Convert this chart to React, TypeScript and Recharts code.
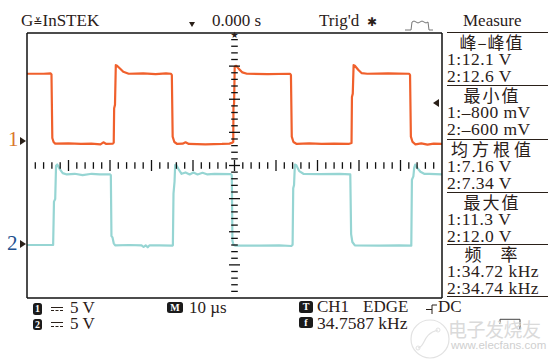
import React from 'react'
import { ComposedChart, Line, Scatter, XAxis, YAxis } from 'recharts'

// time in µs (0 = trigger point), volts
const ch1Samples: [number, number][] = [
  [-50, 10.0], [-46.0, 10.0], [-44.3, 10.05], [-44.1, 9.9], [-43.9, 0.3], [-43.6, -0.3], [-43.2, -0.55],
  [-40.0, -0.5], [-37.0, -0.6], [-34.5, -0.55], [-32.3, -0.65], [-31.6, -0.35], [-30.9, -0.6], [-29.3, -0.55],
  [-29.1, -0.4], [-29.0, 4.8], [-28.8, 5.3], [-28.6, 11.3], [-28.3, 11.2], [-27.6, 10.8], [-26.8, 10.3],
  [-25.5, 10.0], [-22.0, 10.05], [-19.0, 9.95], [-16.5, 10.05], [-15.3, 10.0], [-15.1, 9.8], [-14.9, 0.5],
  [-14.5, -0.3], [-13.8, -0.6], [-12.5, -0.55], [-11.8, -0.35], [-11.0, -0.6], [-7.0, -0.65], [-3.0, -0.6],
  [-1.2, -0.55], [-0.5, -0.4], [-0.3, -0.3], [-0.25, 5.0], [-0.1, 5.5], [0.05, 11.1], [0.4, 11.2],
  [1.1, 10.7], [1.9, 10.2], [3.0, 10.0], [8.0, 9.95], [13.4, 10.0], [13.6, 9.8], [13.8, 0.5], [14.2, -0.3],
  [15.0, -0.6], [18.0, -0.5], [21.0, -0.6], [24.0, -0.55], [27.5, -0.6], [28.2, -0.45], [28.3, 6.5],
  [28.5, 7.0], [28.7, 11.3], [29.0, 11.2], [29.8, 10.6], [30.6, 10.1], [32.0, 10.0], [37.0, 10.05],
  [42.1, 10.0], [42.3, 9.8], [42.5, 0.5], [42.9, -0.3], [43.6, -0.65], [45.0, -0.5], [46.5, -0.7],
  [48.0, -0.55], [50, -0.6],
]

const ch2Samples: [number, number][] = [
  [-50, -0.15], [-43.7, -0.15], [-43.5, 6.4], [-43.2, 6.8], [-43.0, 11.8], [-42.7, 12.0], [-42.1, 11.3],
  [-41.4, 10.7], [-40.4, 10.5], [-38.5, 10.6], [-36.6, 10.4], [-34.4, 10.6], [-32.5, 10.5], [-30.0, 10.5],
  [-29.8, 10.4], [-29.65, 1.2], [-29.4, 1.0], [-29.1, 0.1], [-28.75, -0.2], [-25.3, -0.15], [-22.4, -0.2],
  [-21.9, -0.45], [-21.4, -0.2], [-20.9, -0.5], [-20.5, -0.2], [-18.1, -0.2], [-15.0, -0.25], [-14.85, -0.2],
  [-14.7, 7.6], [-14.45, 9.4], [-14.3, 11.9], [-14.1, 12.0], [-13.5, 11.3], [-12.75, 10.6], [-11.8, 10.8],
  [-10.8, 10.5], [-9.9, 10.8], [-8.9, 10.5], [-7.7, 10.75], [-6.5, 10.5], [-4.8, 10.6], [-0.85, 10.55],
  [-0.65, 10.4], [-0.5, 0.5], [-0.25, -0.1], [0.25, -0.25], [6.0, -0.25], [10.8, -0.2], [13.7, -0.3],
  [14.0, -0.1], [14.15, 8.4], [14.35, 8.9], [14.55, 12.0], [14.9, 11.9], [15.6, 11.0], [16.6, 10.6],
  [20.5, 10.55], [25.3, 10.6], [27.9, 10.5], [28.1, 1.5], [28.4, 0.3], [29.0, -0.2], [34.9, -0.25],
  [39.7, -0.2], [42.6, -0.25], [42.75, 9.7], [43.1, 10.2], [43.3, 11.5], [43.55, 12.0], [44.0, 11.5],
  [44.8, 10.9], [45.7, 10.6], [46.9, 10.6], [50, 10.5],
]

// graticule: 10 µs/div across, 5 V/div up
const divTicksX = [-50, -40, -30, -20, -10, 0, 10, 20, 30, 40, 50]
const divTicksY = [-4, -3, -2, -1, 0, 1, 2, 3, 4]
const rowTickT = [
  -48, -46, -44, -42, -40, -38, -36, -34, -32, -30, -28, -26, -24, -22, -20, -18, -16, -14, -12, -10, -8, -6, -4, -2,
  0, 2, 4, 6, 8, 10, 12, 14, 16, 18, 20, 22, 24, 26, 28, 30, 32, 34, 36, 38, 40, 42, 44, 46, 48,
]
const colTickD = [
  -3.8, -3.6, -3.4, -3.2, -3, -2.8, -2.6, -2.4, -2.2, -2, -1.8, -1.6, -1.4, -1.2, -1, -0.8, -0.6, -0.4, -0.2,
  0, 0.2, 0.4, 0.6, 0.8, 1, 1.2, 1.4, 1.6, 1.8, 2, 2.2, 2.4, 2.6, 2.8, 3, 3.2, 3.4, 3.6, 3.8,
]

const measureNames = ['峰–峰值', '最小值', '均方根值', '最大值', '频　率']
const measureCh1 = ['12.1 V', '–800 mV', '7.16 V', '11.3 V', '34.72 kHz']
const measureCh2 = ['12.6 V', '–600 mV', '7.34 V', '12.0 V', '34.74 kHz']

const INK = '#2a2019'
const SERIF = '"Liberation Serif", "Times New Roman", serif'
const CJK = '"Noto Sans CJK SC", sans-serif'
const CH1_COLOR = '#f0602c'
const CH2_COLOR = '#96d5d3'

const blockTops = [32.3, 85.3, 139.3, 192.3, 244.3]
const headingSpacing = [1, 2, 4, 2, 1]

// y is the visual centre of the glyphs; the line box is kept tight
function Txt({ x, y, size = 17, color = INK, font = SERIF, center = false, style, children }: any) {
  const lh = Math.round(size * 0.82)
  const k = font === CJK ? 0.056 : 0.0075
  return (
    <div
      style={{
        position: 'absolute',
        left: x,
        top: y - lh / 2 - k * size,
        fontSize: size,
        lineHeight: `${lh}px`,
        height: lh,
        fontFamily: font,
        color,
        whiteSpace: 'nowrap',
        transform: center ? 'translateX(-50%)' : undefined,
        ...style,
      }}
    >
      {children}
    </div>
  )
}

function Badge({ x, y, w = 9, h = 11.5, text }: any) {
  return (
    <div
      style={{
        position: 'absolute', left: x, top: y, width: w, height: h, background: '#1b1b1b', borderRadius: 2.5,
        color: '#fff', fontFamily: SERIF, fontWeight: 'bold', fontSize: 10, lineHeight: `${h}px`, textAlign: 'center',
      }}
    >
      {text}
    </div>
  )
}

function Coupling({ x, y }: any) {
  return (
    <div style={{ position: 'absolute', left: x, top: y, width: 12, height: 5 }}>
      <div style={{ height: 0, borderTop: `1px solid ${INK}` }} />
      <div style={{ height: 0, marginTop: 2.5, borderTop: `1px dashed ${INK}` }} />
    </div>
  )
}

function RowTick(p: any) {
  const len = p.payload.t % 10 === 0 ? 5.5 : 3.3
  return <line x1={p.cx} x2={p.cx} y1={p.cy - len} y2={p.cy + len} stroke="#111" strokeWidth={1.3} />
}

function ColTick(p: any) {
  const d = p.payload.d
  const len = Math.abs(d - Math.round(d)) < 1e-6 ? 5.5 : 3.3
  return <line x1={p.cx - len} x2={p.cx + len} y1={p.cy} y2={p.cy} stroke="#111" strokeWidth={1.3} />
}

function Arrow({ x, y, dir }: any) {
  const side = dir === 'right' ? { borderLeft: `6.5px solid ${INK}` } : { borderRight: `6px solid ${INK}` }
  return (
    <div style={{ position: 'absolute', left: x, top: y - 4, width: 0, height: 0, borderTop: '4px solid transparent', borderBottom: '4px solid transparent', ...side }} />
  )
}

const axisLine = { stroke: '#111', strokeWidth: 1.5 }
const tickLine = { stroke: '#111', strokeWidth: 1.3 }

export default function App() {
  const ch1Data = ch1Samples.map(([t, v]) => ({ t, v }))
  const ch2Data = ch2Samples.map(([t, v]) => ({ t, v }))
  const rowData = rowTickT.map((t) => ({ t, d: 0 }))
  const colData = colTickD.map((d) => ({ t: 0, d }))

  return (
    <div style={{ position: 'absolute', left: 0, top: 0, width: 556, height: 361, background: '#fff', overflow: 'hidden' }}>
      <ComposedChart
        width={556}
        height={361}
        margin={{ top: 33, right: 114, bottom: 63, left: 27 }}
        style={{ position: 'absolute', left: 0, top: 0 }}
      >
        <XAxis xAxisId="bottom" dataKey="t" type="number" domain={[-50, 50]} ticks={divTicksX} interval={0}
          orientation="bottom" mirror tick={false} tickSize={5} axisLine={axisLine} tickLine={tickLine} allowDataOverflow />
        <XAxis xAxisId="top" dataKey="t" type="number" domain={[-50, 50]} ticks={divTicksX} interval={0}
          orientation="top" mirror tick={false} tickSize={5} axisLine={axisLine} tickLine={tickLine} allowDataOverflow />
        <YAxis yAxisId="div" type="number" domain={[-4, 4]} ticks={divTicksY} interval={0}
          orientation="left" mirror tick={false} tickSize={5} axisLine={axisLine} tickLine={tickLine} allowDataOverflow />
        <YAxis yAxisId="divR" type="number" domain={[-4, 4]} ticks={divTicksY} interval={0}
          orientation="right" mirror tick={false} tickSize={5} axisLine={axisLine} tickLine={tickLine} allowDataOverflow />
        <YAxis yAxisId="ch1" type="number" domain={[-23.85, 16.15]} hide allowDataOverflow />
        <YAxis yAxisId="ch2" type="number" domain={[-8.15, 31.85]} hide allowDataOverflow />

        <Scatter data={rowData} dataKey="d" xAxisId="bottom" yAxisId="div" shape={RowTick} isAnimationActive={false} legendType="none" />
        <Scatter data={colData} dataKey="d" xAxisId="bottom" yAxisId="div" shape={ColTick} isAnimationActive={false} legendType="none" />

        <Line data={ch1Data} dataKey="v" xAxisId="bottom" yAxisId="ch1" type="linear" dot={false}
          stroke={CH1_COLOR} strokeWidth={2.2} strokeLinejoin="round" isAnimationActive={false} />
        <Line data={ch2Data} dataKey="v" xAxisId="bottom" yAxisId="ch2" type="linear" dot={false}
          stroke={CH2_COLOR} strokeWidth={2.2} strokeLinejoin="round" isAnimationActive={false} />
      </ComposedChart>

      {/* header */}
      <Txt x={21} y={21}>G<span style={{ fontSize: 11, fontFamily: '"DejaVu Sans"' }}>≚</span>InSTEK</Txt>
      <div style={{ position: 'absolute', left: 189, top: 22, width: 0, height: 0, borderLeft: '3.5px solid transparent', borderRight: '3.5px solid transparent', borderTop: `5px solid ${INK}` }} />
      <Txt x={212} y={21}>0.000 s</Txt>
      <Txt x={319} y={21}>Trig'd</Txt>
      <Txt x={367} y={22} size={12} font='"DejaVu Sans", sans-serif' style={{ fontWeight: 'bold' }}>✱</Txt>
      <svg style={{ position: 'absolute', left: 404, top: 18 }} width={30} height={14}>
        <path d="M1,12 H7 L8,4 Q10,2 12,4 T16,4 T20,4 T24,4 L25,12 H29" fill="none" stroke="#666" strokeWidth={0.9} />
      </svg>
      <Txt x={463} y={21}>Measure</Txt>

      {/* trigger position star, trigger level, channel grounds */}
      <Txt x={230.5} y={36} size={9} font='"DejaVu Sans", sans-serif'>★</Txt>
      <Arrow x={432.5} y={103} dir="left" />
      <Txt x={8} y={140} size={21} color="#d9772b">1</Txt>
      <Arrow x={20} y={140.5} dir="right" />
      <Txt x={7} y={244} size={21} color="#23508f">2</Txt>
      <Arrow x={20} y={244} dir="right" />

      {/* measure panel */}
      {[...blockTops, 296.7].map((y, i) => (
        <div key={`ml-${i}`} style={{ position: 'absolute', left: 447, top: y - 0.7, width: 101, height: 0, borderTop: `1.4px solid ${INK}` }} />
      ))}
      {measureNames.map((name, i) => (
        <React.Fragment key={name}>
          <Txt x={491} y={blockTops[i] + 10.5} size={17} font={CJK} center
            style={{ letterSpacing: headingSpacing[i], paddingLeft: headingSpacing[i] }}>
            {name}
          </Txt>
          <Txt x={447} y={blockTops[i] + 26.5} size={17.5} style={{ letterSpacing: 0.5 }}>1:{measureCh1[i]}</Txt>
          <Txt x={447} y={blockTops[i] + 43.5} size={17.5} style={{ letterSpacing: 0.5 }}>2:{measureCh2[i]}</Txt>
        </React.Fragment>
      ))}

      {/* bottom status */}
      <Badge x={33} y={303} text="1" />
      <Coupling x={51} y={306.5} />
      <Txt x={70} y={308.5}>5 V</Txt>
      <Badge x={33} y={318.5} text="2" />
      <Coupling x={51} y={322} />
      <Txt x={70} y={324}>5 V</Txt>

      <Badge x={167} y={301.5} w={16} h={11} text="M" />
      <Txt x={189} y={308.5}>10 µs</Txt>

      <Badge x={299} y={301} w={14} h={11.5} text="T" />
      <Txt x={317} y={307}>CH1</Txt>
      <Txt x={363} y={307}>EDGE</Txt>
      <svg style={{ position: 'absolute', left: 425, top: 301 }} width={14} height={14}>
        <path d="M1,8.5 H7 M7,4 V13 M7,4 H12" fill="none" stroke={INK} strokeWidth={1} />
      </svg>
      <Txt x={438} y={307}>DC</Txt>
      <Badge x={299} y={317} w={14} h={11} text="f" />
      <Txt x={317} y={323} size={17.5}>34.7587 kHz</Txt>

      {/* watermark */}
      <svg style={{ position: 'absolute', left: 408, top: 318 }} width={46} height={43}>
        <circle cx={22} cy={21} r={19} fill="none" stroke="#e2e2e2" strokeWidth={1.2} />
        <path d="M10,30 C18,28 14,16 30,12" fill="none" stroke="#e2e2e2" strokeWidth={1.2} />
        <circle cx={10} cy={30} r={2} fill="none" stroke="#e2e2e2" />
        <circle cx={30} cy={12} r={2} fill="none" stroke="#e2e2e2" />
      </svg>
      <svg style={{ position: 'absolute', left: 499, top: 318 }} width={24} height={12}>
        <path d="M1,6 V1.3 H21 V11" fill="none" stroke="#444" strokeWidth={1} />
      </svg>
      <Txt x={448} y={330} size={19} font={CJK} color="#dadada" style={{ letterSpacing: -0.5 }}>电子发烧友</Txt>
      <Txt x={451} y={346} size={11.5} font='"Liberation Sans", Arial, sans-serif' color="#cfcfcf">www.elecfans.com</Txt>
    </div>
  )
}
